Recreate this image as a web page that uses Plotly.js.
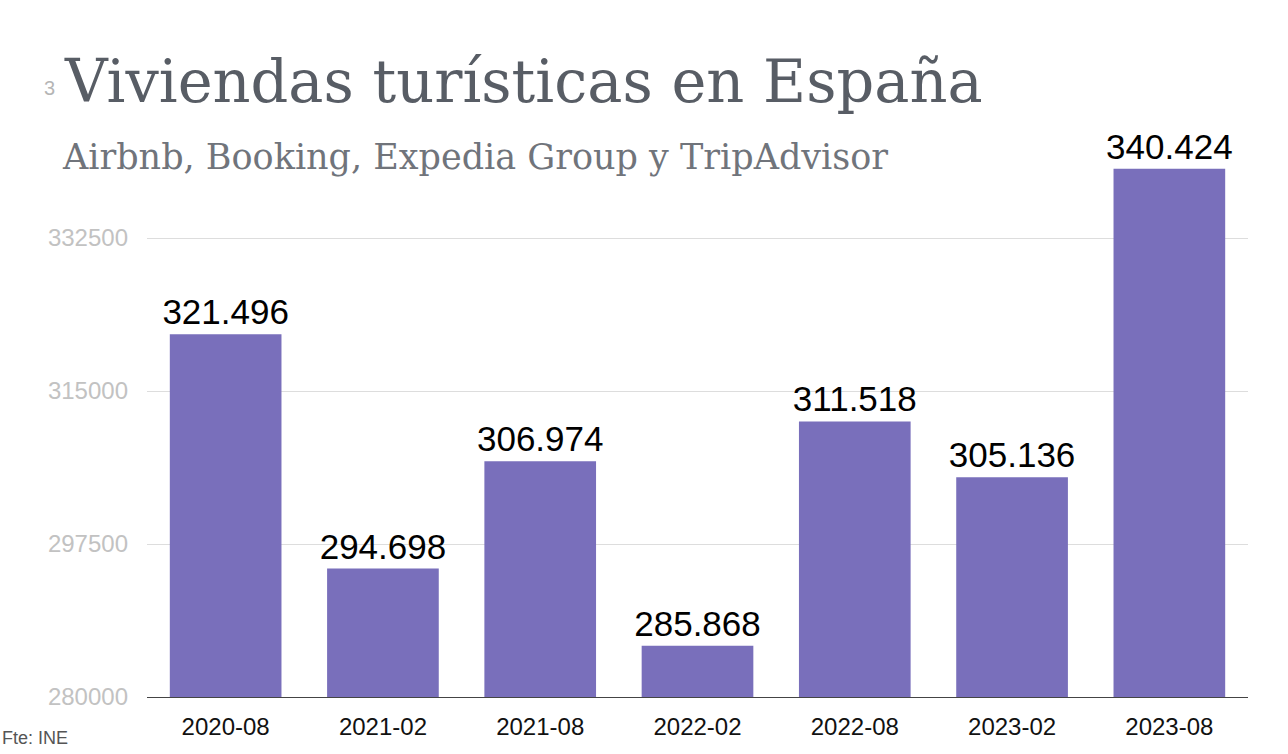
<!DOCTYPE html>
<html>
<head>
<meta charset="utf-8">
<script src="https://cdn.plot.ly/plotly-3.0.1.min.js"></script>
<style>html,body{margin:0;padding:0;background:#fff;}#chart{width:1288px;height:754px;}</style>
</head>
<body>
<div id="chart"></div>
<script>
const categories = ["2020-08","2021-02","2021-08","2022-02","2022-08","2023-02","2023-08"];
const viviendas = [321496, 294698, 306974, 285868, 311518, 305136, 340424];
const yTicks = [280000, 297500, 315000, 332500];
const titleText = "Viviendas turísticas en España";
const subtitleText = "Airbnb, Booking, Expedia Group y TripAdvisor";
const sourceText = "Fte: INE";

const W = 1288, H = 754;
const L = 147, R = 40, T = 120, B = 57;
const pw = W - L - R, ph = H - T - B;
const px = x => (x - L) / pw;
const py = y => (H - B - y) / ph;

const trace = {
  type: 'bar',
  x: categories,
  y: viviendas,
  marker: {color: '#796fbb'},
  texttemplate: '%{y:,}',
  textposition: 'outside',
  constraintext: 'none',
  cliponaxis: false,
  textfont: {family: '"Liberation Sans", Arial, sans-serif', size: 35, color: '#000'},
  hoverinfo: 'x+y'
};

const layout = {
  width: W, height: H,
  margin: {l: L, r: R, t: T, b: B},
  paper_bgcolor: '#fff', plot_bgcolor: '#fff',
  separators: ',.',
  bargap: 0.29,
  showlegend: false,
  xaxis: {
    type: 'category',
    showline: true, linecolor: '#444', linewidth: 1,
    ticks: '', showgrid: false, ticklabelstandoff: 8,
    tickfont: {family: '"Liberation Sans", Arial, sans-serif', size: 24, color: '#111'}
  },
  yaxis: {
    range: [280000, 346000],
    tickvals: yTicks,
    tickformat: 'd',
    showgrid: true, gridcolor: '#dddddd', gridwidth: 1,
    zeroline: false, showline: false,
    ticks: '', ticklabelstandoff: 18,
    tickfont: {family: '"Liberation Sans", Arial, sans-serif', size: 24, color: '#c2c2c2'}
  },
  annotations: [
    {xref: 'paper', yref: 'paper', x: px(62), y: py(82), xanchor: 'left', yanchor: 'middle',
     text: titleText, showarrow: false,
     font: {family: '"DejaVu Serif", serif', size: 59, color: '#585d65'}},
    {xref: 'paper', yref: 'paper', x: px(57), y: py(88), xanchor: 'right', yanchor: 'middle',
     text: '3', showarrow: false,
     font: {family: '"Liberation Sans", sans-serif', size: 20, color: '#b5b5b5'}},
    {xref: 'paper', yref: 'paper', x: px(60), y: py(157), xanchor: 'left', yanchor: 'middle',
     text: subtitleText, showarrow: false,
     font: {family: '"DejaVu Serif", serif', size: 35, color: '#70747b'}},
    {xref: 'paper', yref: 'paper', x: px(0), y: py(738), xanchor: 'left', yanchor: 'middle',
     text: sourceText, showarrow: false,
     font: {family: '"Liberation Sans", Arial, sans-serif', size: 18, color: '#555'}}
  ]
};

Plotly.newPlot('chart', [trace], layout, {displayModeBar: false, staticPlot: true});
</script>
</body>
</html>
